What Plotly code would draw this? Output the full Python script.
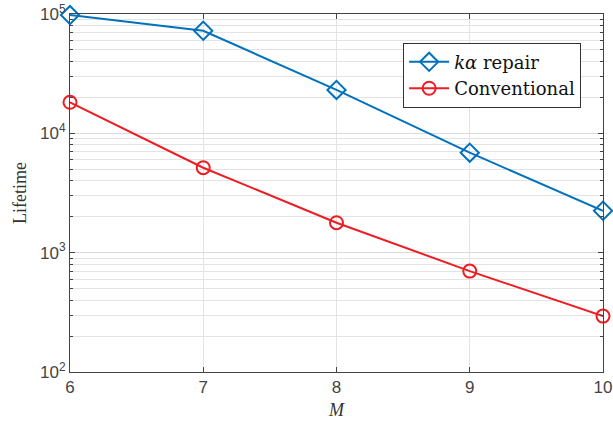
import plotly.graph_objects as go

# Data
m_values = [6, 7, 8, 9, 10]
ka_repair = [98000, 72400, 23100, 6880, 2245]
conventional = [18200, 5150, 1782, 701, 294]

decades = [100, 1000, 10000, 100000]
decade_labels = ["10<sup>2</sup>", "10<sup>3</sup>", "10<sup>4</sup>", "10<sup>5</sup>"]
minor_vals = [k * d for d in [100, 1000, 10000] for k in range(2, 10)]

blue = "#0072BD"
red = "#EE1D23"
serif = "DejaVu Serif"
sans = "Liberation Sans"

fig = go.Figure()
fig.add_trace(go.Scatter(
    x=m_values, y=ka_repair, mode="lines+markers",
    name="<i>kα</i> repair", cliponaxis=False,
    line=dict(color=blue, width=2),
    marker=dict(symbol="diamond-open", size=14, color=blue, line=dict(width=2)),
))
fig.add_trace(go.Scatter(
    x=m_values, y=conventional, mode="lines+markers",
    name="Conventional", cliponaxis=False,
    line=dict(color=red, width=2),
    marker=dict(symbol="circle-open", size=13, color=red, line=dict(width=2)),
))

fig.update_layout(
    width=613, height=427,
    margin=dict(l=70, r=10, t=14, b=55, autoexpand=False),
    paper_bgcolor="white", plot_bgcolor="white",
    showlegend=True,
    font=dict(family=sans),
    legend=dict(
        x=0.625, y=0.92, xanchor="left", yanchor="top",
        bgcolor="white", bordercolor="#333333", borderwidth=1,
        font=dict(family=serif, size=18, color="#111111"),
        tracegroupgap=0, itemwidth=40,
    ),
    xaxis=dict(
        range=[6, 10], tickvals=m_values, automargin=False,
        showline=True, linecolor="#444444", linewidth=1, mirror="ticks",
        ticks="inside", ticklen=5, tickcolor="#444444",
        showgrid=True, gridcolor="#E3E3E3", gridwidth=1,
        zeroline=False,
        tickfont=dict(family=sans, size=17, color="#444444"),
        title=dict(text="<i>M</i>", font=dict(family="Liberation Serif", size=18, color="#333333"), standoff=6),
    ),
    yaxis=dict(
        type="log", range=[2, 5], automargin=False,
        tickvals=decades, ticktext=decade_labels,
        showline=True, linecolor="#444444", linewidth=1, mirror="ticks",
        ticks="inside", ticklen=5, tickcolor="#444444",
        showgrid=True, gridcolor="#DADADA", gridwidth=1,
        zeroline=False,
        tickfont=dict(family=sans, size=17, color="#444444"),
        title=dict(text="Lifetime", font=dict(family="Liberation Serif", size=18, color="#333333"), standoff=8),
        minor=dict(tickvals=minor_vals, ticks="inside", ticklen=3, tickcolor="#444444",
                   showgrid=True, gridcolor="#E3E3E3", gridwidth=1),
    ),
)

fig.write_html("out.html")
